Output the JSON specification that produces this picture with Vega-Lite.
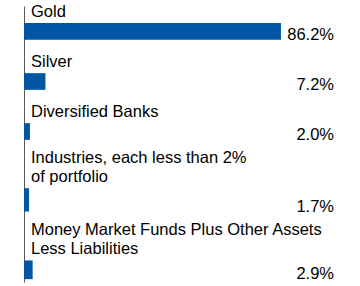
{
  "$schema": "https://vega.github.io/schema/vega-lite/v6.json",
  "padding": {"left": 24, "top": 3, "right": 0, "bottom": 0},
  "bounds": "flush",
  "spacing": 0,
  "background": "white",
  "config": {
    "view": {"stroke": null},
    "font": "Liberation Sans",
    "text": {"fontSize": 16.5, "color": "#000000", "font": "Liberation Sans"},
    "bar": {"color": "#0055a5"},
    "axisY": {"title": null, "labels": false, "ticks": false, "grid": false, "domainColor": "#595959", "domainWidth": 1}
  },
  "datasets": {
    "holdings": [
      {"Category": "Gold", "Share": 0.862},
      {"Category": "Silver", "Share": 0.072},
      {"Category": "Diversified Banks", "Share": 0.020},
      {"Category": "Industries, each less than 2%\nof portfolio", "Share": 0.017},
      {"Category": "Money Market Funds Plus Other Assets\nLess Liabilities", "Share": 0.029}
    ]
  },
  "data": {"name": "holdings"},
  "vconcat": [
    {
      "width": 310, "height": 50,
      "transform": [{"filter": {"field": "Category", "equal": "Gold"}}],
      "encoding": {"y": {"field": "Category", "type": "nominal", "scale": {"paddingInner": 0, "paddingOuter": 1.224, "align": 0.51}}},
      "layer": [
        {"mark": "bar", "encoding": {"x": {"field": "Share", "type": "quantitative", "scale": {"domain": [0, 1.04], "nice": false}, "axis": null}}},
        {"mark": {"type": "text", "align": "left", "baseline": "bottom", "dx": 7, "dy": -3, "lineBreak": "\n", "lineHeight": 19},
         "encoding": {"x": {"datum": 0, "type": "quantitative"}, "y": {"field": "Category", "type": "nominal", "bandPosition": 0}, "text": {"field": "Category"}}},
        {"mark": {"type": "text", "align": "right", "baseline": "alphabetic"},
         "encoding": {"x": {"datum": 1.04, "type": "quantitative"}, "y": {"field": "Category", "type": "nominal", "bandPosition": 1}, "text": {"field": "Share", "format": ".1%"}}}
      ]
    },
    {
      "width": 310, "height": 50,
      "transform": [{"filter": {"field": "Category", "equal": "Silver"}}],
      "encoding": {"y": {"field": "Category", "type": "nominal", "scale": {"paddingInner": 0, "paddingOuter": 1.224, "align": 0.515}}},
      "layer": [
        {"mark": "bar", "encoding": {"x": {"field": "Share", "type": "quantitative", "scale": {"domain": [0, 1.04], "nice": false}, "axis": null}}},
        {"mark": {"type": "text", "align": "left", "baseline": "bottom", "dx": 7, "dy": -3, "lineBreak": "\n", "lineHeight": 19},
         "encoding": {"x": {"datum": 0, "type": "quantitative"}, "y": {"field": "Category", "type": "nominal", "bandPosition": 0}, "text": {"field": "Category"}}},
        {"mark": {"type": "text", "align": "right", "baseline": "alphabetic"},
         "encoding": {"x": {"datum": 1.04, "type": "quantitative"}, "y": {"field": "Category", "type": "nominal", "bandPosition": 1}, "text": {"field": "Share", "format": ".1%"}}}
      ]
    },
    {
      "width": 310, "height": 50,
      "transform": [{"filter": {"field": "Category", "equal": "Diversified Banks"}}],
      "encoding": {"y": {"field": "Category", "type": "nominal", "scale": {"paddingInner": 0, "paddingOuter": 1.224, "align": 0.515}}},
      "layer": [
        {"mark": "bar", "encoding": {"x": {"field": "Share", "type": "quantitative", "scale": {"domain": [0, 1.04], "nice": false}, "axis": null}}},
        {"mark": {"type": "text", "align": "left", "baseline": "bottom", "dx": 7, "dy": -3, "lineBreak": "\n", "lineHeight": 19},
         "encoding": {"x": {"datum": 0, "type": "quantitative"}, "y": {"field": "Category", "type": "nominal", "bandPosition": 0}, "text": {"field": "Category"}}},
        {"mark": {"type": "text", "align": "right", "baseline": "alphabetic"},
         "encoding": {"x": {"datum": 1.04, "type": "quantitative"}, "y": {"field": "Category", "type": "nominal", "bandPosition": 1}, "text": {"field": "Share", "format": ".1%"}}}
      ]
    },
    {
      "width": 310, "height": 70,
      "transform": [{"filter": {"field": "Category", "equal": "Industries, each less than 2%\nof portfolio"}}],
      "encoding": {"y": {"field": "Category", "type": "nominal", "scale": {"paddingInner": 0, "paddingOuter": 1.914, "align": 0.69}}},
      "layer": [
        {"mark": "bar", "encoding": {"x": {"field": "Share", "type": "quantitative", "scale": {"domain": [0, 1.04], "nice": false}, "axis": null}}},
        {"mark": {"type": "text", "align": "left", "baseline": "bottom", "dx": 7, "dy": -22, "lineBreak": "\n", "lineHeight": 19},
         "encoding": {"x": {"datum": 0, "type": "quantitative"}, "y": {"field": "Category", "type": "nominal", "bandPosition": 0}, "text": {"field": "Category"}}},
        {"mark": {"type": "text", "align": "right", "baseline": "alphabetic"},
         "encoding": {"x": {"datum": 1.04, "type": "quantitative"}, "y": {"field": "Category", "type": "nominal", "bandPosition": 1}, "text": {"field": "Share", "format": ".1%"}}}
      ]
    },
    {
      "width": 310, "height": 56,
      "transform": [{"filter": {"field": "Category", "equal": "Money Market Funds Plus Other Assets\nLess Liabilities"}}],
      "encoding": {"y": {"field": "Category", "type": "nominal", "scale": {"paddingInner": 0, "paddingOuter": 1.431, "align": 0.923}}},
      "layer": [
        {"mark": "bar", "encoding": {"x": {"field": "Share", "type": "quantitative", "scale": {"domain": [0, 1.04], "nice": false}, "axis": null}}},
        {"mark": {"type": "text", "align": "left", "baseline": "bottom", "dx": 7, "dy": -22, "lineBreak": "\n", "lineHeight": 19},
         "encoding": {"x": {"datum": 0, "type": "quantitative"}, "y": {"field": "Category", "type": "nominal", "bandPosition": 0}, "text": {"field": "Category"}}},
        {"mark": {"type": "text", "align": "right", "baseline": "alphabetic"},
         "encoding": {"x": {"datum": 1.04, "type": "quantitative"}, "y": {"field": "Category", "type": "nominal", "bandPosition": 1}, "text": {"field": "Share", "format": ".1%"}}}
      ]
    }
  ]
}
